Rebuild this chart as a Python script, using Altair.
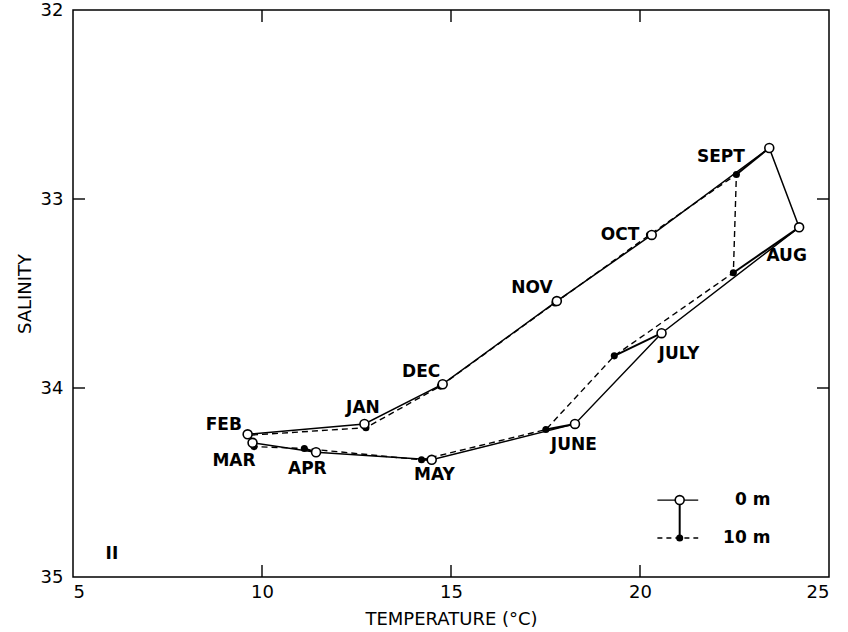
import altair as alt
import pandas as pd

# Monthly T-S pairs at 0 m and 10 m, in loop order starting with February
months = ["FEB", "MAR", "APR", "MAY", "JUNE", "JULY", "AUG", "SEPT", "OCT", "NOV", "DEC", "JAN"]
temp_0m = [9.62, 9.75, 11.43, 14.49, 18.28, 20.57, 24.21, 23.42, 20.31, 17.80, 14.78, 12.71]
sal_0m = [34.245, 34.29, 34.34, 34.38, 34.19, 33.71, 33.15, 32.73, 33.19, 33.54, 33.98, 34.19]
temp_10m = [9.65, 9.79, 11.12, 14.22, 17.51, 19.32, 22.47, 22.55, 20.25, 17.75, 14.72, 12.75]
sal_10m = [34.25, 34.31, 34.32, 34.38, 34.22, 33.83, 33.39, 32.87, 33.19, 33.55, 33.99, 34.21]

# Month label anchors (temperature, salinity)
label_temp = [8.99, 9.26, 11.20, 14.56, 18.25, 21.03, 23.88, 22.14, 19.47, 17.14, 14.21, 12.67]
label_sal = [34.196, 34.386, 34.431, 34.46, 34.30, 33.82, 33.30, 32.78, 33.19, 33.47, 33.915, 34.108]

x_ticks = [5, 10, 15, 20, 25]
y_ticks = [32, 33, 34, 35]
x_inner_ticks = [10, 15, 20]
y_inner_ticks = [33, 34]

W, H = 756, 567
FONT = "DejaVu Sans"

n = len(months)
loop_idx = list(range(n)) + [0]
surface = pd.DataFrame({"seq": range(n + 1),
                        "T": [temp_0m[i] for i in loop_idx],
                        "S": [sal_0m[i] for i in loop_idx]})
ten = pd.DataFrame({"seq": range(n + 1),
                    "T": [temp_10m[i] for i in loop_idx],
                    "S": [sal_10m[i] for i in loop_idx]})
pairs = pd.DataFrame({"T": temp_0m, "S": sal_0m, "T2": temp_10m, "S2": sal_10m})
labels = pd.DataFrame({"month": months, "T": label_temp, "S": label_sal})

xs = alt.Scale(domain=[5, 25], nice=False, zero=False)
ys = alt.Scale(domain=[32, 35], nice=False, zero=False, reverse=True)

x_axis = alt.Axis(values=x_ticks, ticks=False, domain=False, grid=False, format="d",
                  labelPadding=6, labelFontSize=18, labelColor="black", labelFont=FONT,
                  title="TEMPERATURE (°C)", titleFontSize=18, titleFont=FONT,
                  titleFontWeight="normal", titleColor="black", titlePadding=9)
y_axis = alt.Axis(values=y_ticks, ticks=False, domain=False, grid=False, format="d",
                  labelPadding=10, labelFontSize=18, labelColor="black", labelFont=FONT,
                  title="SALINITY", titleFontSize=18, titleFont=FONT,
                  titleFontWeight="normal", titleColor="black", titlePadding=6)


def X(f="T"):
    return alt.X(f"{f}:Q", scale=xs, axis=x_axis, title="TEMPERATURE (°C)")


def Y(f="S"):
    return alt.Y(f"{f}:Q", scale=ys, axis=y_axis, title="SALINITY")


line_0m = alt.Chart(surface).mark_line(color="black", strokeWidth=1.5).encode(
    x=X(), y=Y(), order="seq:Q")
line_10m = alt.Chart(ten).mark_line(color="black", strokeWidth=1.4, strokeDash=[6, 4]).encode(
    x=X(), y=Y(), order="seq:Q")
connectors = alt.Chart(pairs).mark_rule(color="black", strokeWidth=2).encode(
    x=X(), y=Y(), x2="T2:Q", y2="S2:Q")
dots_10m = alt.Chart(pairs).mark_point(shape="circle", filled=True, color="black", size=50,
                                       opacity=1).encode(x=X("T2"), y=Y("S2"))
circles_0m = alt.Chart(pairs).mark_point(shape="circle", filled=True, fill="white",
                                         stroke="black", strokeWidth=1.6, size=80,
                                         opacity=1).encode(x=X(), y=Y())
month_text = alt.Chart(labels).mark_text(font=FONT, fontSize=17, fontWeight="bold",
                                         color="black", align="center",
                                         baseline="middle").encode(
    x=X(), y=Y(), text="month:N")

# Inward tick marks on all four sides
xt = pd.DataFrame({"T": x_inner_ticks})
yt = pd.DataFrame({"S": y_inner_ticks})
tick_style = dict(color="black", strokeWidth=1.4)
ticks = [
    alt.Chart(xt).mark_rule(**tick_style).encode(x=X(), y=alt.value(H), y2=alt.value(H - 12)),
    alt.Chart(xt).mark_rule(**tick_style).encode(x=X(), y=alt.value(0), y2=alt.value(12)),
    alt.Chart(yt).mark_rule(**tick_style).encode(y=Y(), x=alt.value(0), x2=alt.value(12)),
    alt.Chart(yt).mark_rule(**tick_style).encode(y=Y(), x=alt.value(W), x2=alt.value(W - 12)),
]

# Panel number
panel = alt.Chart(pd.DataFrame({"T": [6.03], "S": [34.88], "t": ["II"]})).mark_text(
    font=FONT, fontSize=17, fontWeight="bold", color="black").encode(
    x=X(), y=Y(), text="t:N")

# Key: 0 m (open circle, solid) over 10 m (filled dot, dashed) joined by a vertical line
key_T, key_L, key_R, key_text_T = 21.05, 20.46, 21.54, 23.45
key_S0, key_S10 = 34.593, 34.794
key_solid = alt.Chart(pd.DataFrame({"T": [key_L], "T2": [key_R], "S": [key_S0]})).mark_rule(
    color="black", strokeWidth=1.4).encode(x=X(), x2="T2:Q", y=Y())
key_dash = alt.Chart(pd.DataFrame({"T": [key_L], "T2": [key_R], "S": [key_S10]})).mark_rule(
    color="black", strokeWidth=1.4, strokeDash=[5, 4]).encode(x=X(), x2="T2:Q", y=Y())
key_vert = alt.Chart(pd.DataFrame({"T": [key_T], "S": [key_S0], "S2": [key_S10]})).mark_rule(
    color="black", strokeWidth=2).encode(x=X(), y=Y(), y2="S2:Q")
key_dot = alt.Chart(pd.DataFrame({"T": [key_T], "S": [key_S10]})).mark_point(
    shape="circle", filled=True, color="black", size=50, opacity=1).encode(x=X(), y=Y())
key_circle = alt.Chart(pd.DataFrame({"T": [key_T], "S": [key_S0]})).mark_point(
    shape="circle", filled=True, fill="white", stroke="black", strokeWidth=1.6, size=80,
    opacity=1).encode(x=X(), y=Y())
key_text = alt.Chart(pd.DataFrame({"T": [key_text_T, key_text_T], "S": [key_S0, key_S10],
                                   "t": ["0 m", "10 m"]})).mark_text(
    font=FONT, fontSize=17, fontWeight="bold", color="black", align="right",
    baseline="middle").encode(x=X(), y=Y(), text="t:N")

chart = alt.layer(
    line_0m, line_10m, connectors, dots_10m, circles_0m, month_text, *ticks, panel,
    key_solid, key_dash, key_vert, key_dot, key_circle, key_text,
).properties(
    width=W, height=H,
    autosize=alt.AutoSizeParams(type="none"),
    padding={"left": 73, "top": 10, "right": 19, "bottom": 55},
    background="white",
).configure_view(stroke="black", strokeWidth=1.5)

chart.save("out.html", embed_options={"renderer": "svg", "actions": False})
